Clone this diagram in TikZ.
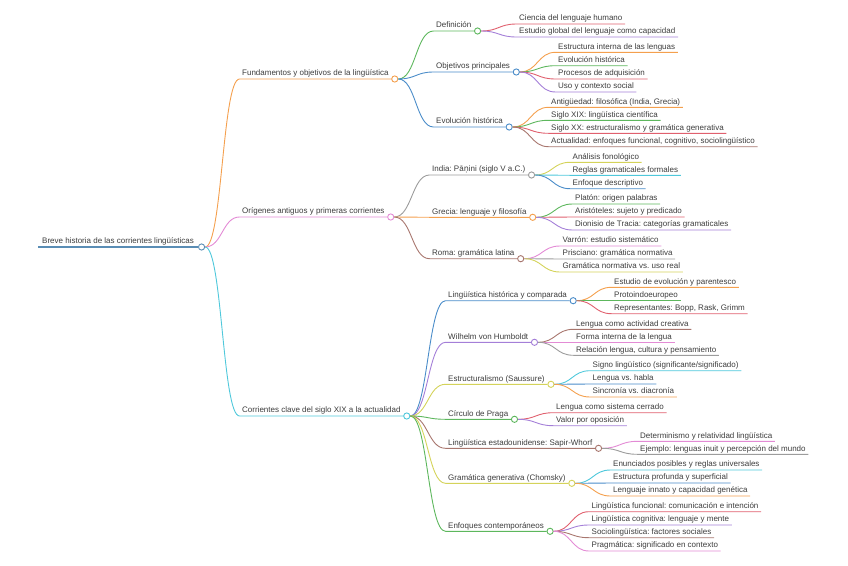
\documentclass[tikz,border=0pt]{standalone}
\usepackage{fontspec}
\setmainfont{Liberation Sans}
\newfontfamily\dejavu{DejaVu Sans}
\usepackage{tikz}
\usetikzlibrary{calc}
\frenchspacing

\definecolor{txt}{HTML}{3C3C3C}
\definecolor{cRoot}{HTML}{5A8DB5}
\definecolor{cOrange}{HTML}{F4A04E}
\definecolor{cPink}{HTML}{E38BD5}
\definecolor{cCyan}{HTML}{4FC8DB}
\definecolor{cGreen}{HTML}{5DB75D}
\definecolor{cBlue}{HTML}{4A8CC9}
\definecolor{cRed}{HTML}{E0606E}
\definecolor{cPurple}{HTML}{A47FD8}
\definecolor{cBrown}{HTML}{A8766E}
\definecolor{cGray}{HTML}{9C9C9C}
\definecolor{cOlive}{HTML}{D4D35A}

\tikzset{
  every node/.style={font=\fontsize{8}{9.5}\selectfont},
  lbl/.style={anchor=south west,inner xsep=2.5pt,inner ysep=1.4pt,text height=6.3pt,text depth=1.7pt,text=txt},
  dot/.style={circle,draw=#1,fill=white,line width=0.9pt,minimum size=6.2pt,inner sep=0pt,anchor=west},
  br/.style={draw=#1,line width=0.9pt},
  branch/.style={to path={let \p1=(\tikztostart),\p2=(\tikztotarget) in
    .. controls (0.5*\x1+0.5*\x2,\y1) and (0.5*\x1+0.5*\x2,\y2) .. (\tikztotarget)}}
}

\begin{document}
\begin{tikzpicture}[x=1pt,y=-1pt]
\useasboundingbox (0,0) rectangle (848,565);

% root
\node[lbl,inner xsep=4pt] (root) at (38,247) {Breve historia de las corrientes lingüísticas};
\node[dot=cRoot] (root-o) at (root.south east) {};
\draw[cRoot,line width=2.2pt] (root.south west) -- (root-o.west);

% main branches
\node[lbl] (fund) at (239.5,79) {Fundamentos y objetivos de la lingüística};
\node[dot=cOrange] (fund-o) at (fund.south east) {};
\draw[br=cOrange] (root-o.east) to[branch] (fund.south west) -- (fund-o.west);
\node[lbl] (orig) at (239.5,217) {Orígenes antiguos y primeras corrientes};
\node[dot=cPink] (orig-o) at (orig.south east) {};
\draw[br=cPink] (root-o.east) to[branch] (orig.south west) -- (orig-o.west);
\node[lbl] (corr) at (239.5,416) {Corrientes clave del siglo XIX a la actualidad};
\node[dot=cCyan] (corr-o) at (corr.south east) {};
\draw[br=cCyan] (root-o.east) to[branch] (corr.south west) -- (corr-o.west);

% Fundamentos
\node[lbl] (defi) at (433.5,31) {Definición};
\node[dot=cGreen] (defi-o) at (defi.south east) {};
\draw[br=cGreen] (fund-o.east) to[branch] (defi.south west) -- (defi-o.west);
\node[lbl] (obje) at (433.5,72) {Objetivos principales};
\node[dot=cBlue] (obje-o) at (obje.south east) {};
\draw[br=cBlue] (fund-o.east) to[branch] (obje.south west) -- (obje-o.west);
\node[lbl] (evol) at (433.5,127) {Evolución histórica};
\node[dot=cBlue] (evol-o) at (evol.south east) {};
\draw[br=cBlue] (fund-o.east) to[branch] (evol.south west) -- (evol-o.west);

\node[lbl] (defi1) at (516.5,24) {Ciencia del lenguaje humano};
\draw[br=cRed] (defi-o.east) to[branch] (defi1.south west) -- (defi1.south east);
\node[lbl] (defi2) at (516.5,37) {Estudio global del lenguaje como capacidad};
\draw[br=cPurple] (defi-o.east) to[branch] (defi2.south west) -- (defi2.south east);

\node[lbl] (obje1) at (555.5,52.3) {Estructura interna de las lenguas};
\draw[br=cOrange] (obje-o.east) to[branch] (obje1.south west) -- (obje1.south east);
\node[lbl] (obje2) at (555.5,65.7) {Evolución histórica};
\draw[br=cGreen] (obje-o.east) to[branch] (obje2.south west) -- (obje2.south east);
\node[lbl] (obje3) at (555.5,79) {Procesos de adquisición};
\draw[br=cRed] (obje-o.east) to[branch] (obje3.south west) -- (obje3.south east);
\node[lbl] (obje4) at (555.5,92) {Uso y contexto social};
\draw[br=cPurple] (obje-o.east) to[branch] (obje4.south west) -- (obje4.south east);

\node[lbl] (evol1) at (548.5,107.3) {Antigüedad: filosófica (India, Grecia)};
\draw[br=cOrange] (evol-o.east) to[branch] (evol1.south west) -- (evol1.south east);
\node[lbl] (evol2) at (548.5,120.3) {Siglo XIX: lingüística científica};
\draw[br=cGreen] (evol-o.east) to[branch] (evol2.south west) -- (evol2.south east);
\node[lbl] (evol3) at (548.5,133.3) {Siglo XX: estructuralismo y gramática generativa};
\draw[br=cRed] (evol-o.east) to[branch] (evol3.south west) -- (evol3.south east);
\node[lbl] (evol4) at (548.5,146.7) {Actualidad: enfoques funcional, cognitivo, sociolingüístico};
\draw[br=cBrown] (evol-o.east) to[branch] (evol4.south west) -- (evol4.south east);

% Origenes
\node[lbl] (indi) at (429.5,175) {India: Pā{\dejavu ṇ}ini (siglo V a.C.)};
\node[dot=cGray] (indi-o) at (indi.south east) {};
\draw[br=cGray] (orig-o.east) to[branch] (indi.south west) -- (indi-o.west);
\node[lbl] (grec) at (429.5,217.3) {Grecia: lenguaje y filosofía};
\node[dot=cOrange] (grec-o) at (grec.south east) {};
\draw[br=cOrange] (orig-o.east) to[branch] (grec.south west) -- (grec-o.west);
\node[lbl] (roma) at (429.5,258.7) {Roma: gramática latina};
\node[dot=cBrown] (roma-o) at (roma.south east) {};
\draw[br=cBrown] (orig-o.east) to[branch] (roma.south west) -- (roma-o.west);

\node[lbl] (indi1) at (570,162.3) {Análisis fonológico};
\draw[br=cOlive] (indi-o.east) to[branch] (indi1.south west) -- (indi1.south east);
\node[lbl] (indi2) at (570,175.3) {Reglas gramaticales formales};
\draw[br=cCyan] (indi-o.east) to[branch] (indi2.south west) -- (indi2.south east);
\node[lbl] (indi3) at (570,188.7) {Enfoque descriptivo};
\draw[br=cBlue] (indi-o.east) to[branch] (indi3.south west) -- (indi3.south east);

\node[lbl] (grec1) at (572.5,204) {Platón: origen palabras};
\draw[br=cGreen] (grec-o.east) to[branch] (grec1.south west) -- (grec1.south east);
\node[lbl] (grec2) at (572.5,217) {Aristóteles: sujeto y predicado};
\draw[br=cRed] (grec-o.east) to[branch] (grec2.south west) -- (grec2.south east);
\node[lbl] (grec3) at (572.5,230) {Dionisio de Tracia: categorías gramaticales};
\draw[br=cPurple] (grec-o.east) to[branch] (grec3.south west) -- (grec3.south east);

\node[lbl] (roma1) at (560,246) {Varrón: estudio sistemático};
\draw[br=cPink] (roma-o.east) to[branch] (roma1.south west) -- (roma1.south east);
\node[lbl] (roma2) at (560,259) {Prisciano: gramática normativa};
\draw[br=cGray] (roma-o.east) to[branch] (roma2.south west) -- (roma2.south east);
\node[lbl] (roma3) at (560,272) {Gramática normativa vs. uso real};
\draw[br=cOlive] (roma-o.east) to[branch] (roma3.south west) -- (roma3.south east);

% Corrientes
\node[lbl] (hist) at (445.5,300.7) {Lingüística histórica y comparada};
\node[dot=cBlue] (hist-o) at (hist.south east) {};
\draw[br=cBlue] (corr-o.east) to[branch] (hist.south west) -- (hist-o.west);
\node[lbl] (humb) at (445.5,342.3) {Wilhelm von Humboldt};
\node[dot=cPurple] (humb-o) at (humb.south east) {};
\draw[br=cPurple] (corr-o.east) to[branch] (humb.south west) -- (humb-o.west);
\node[lbl] (estr) at (445.5,384.3) {Estructuralismo (Saussure)};
\node[dot=cOlive] (estr-o) at (estr.south east) {};
\draw[br=cOlive] (corr-o.east) to[branch] (estr.south west) -- (estr-o.west);
\node[lbl] (prag) at (445.5,419.3) {Círculo de Praga};
\node[dot=cGreen] (prag-o) at (prag.south east) {};
\draw[br=cGreen] (corr-o.east) to[branch] (prag.south west) -- (prag-o.west);
\node[lbl] (sapi) at (445.5,448.3) {Lingüística estadounidense: Sapir-Whorf};
\node[dot=cBrown] (sapi-o) at (sapi.south east) {};
\draw[br=cBrown] (corr-o.east) to[branch] (sapi.south west) -- (sapi-o.west);
\node[lbl] (chom) at (445.5,483.3) {Gramática generativa (Chomsky)};
\node[dot=cOlive] (chom-o) at (chom.south east) {};
\draw[br=cOlive] (corr-o.east) to[branch] (chom.south west) -- (chom-o.west);
\node[lbl] (enfo) at (445.5,531.3) {Enfoques contemporáneos};
\node[dot=cGreen] (enfo-o) at (enfo.south east) {};
\draw[br=cGreen] (corr-o.east) to[branch] (enfo.south west) -- (enfo-o.west);

\node[lbl] (hist1) at (611.5,287.3) {Estudio de evolución y parentesco};
\draw[br=cOrange] (hist-o.east) to[branch] (hist1.south west) -- (hist1.south east);
\node[lbl] (hist2) at (611.5,300.7) {Protoindoeuropeo};
\draw[br=cGreen] (hist-o.east) to[branch] (hist2.south west) -- (hist2.south east);
\node[lbl] (hist3) at (611.5,313.7) {Representantes: Bopp, Rask, Grimm};
\draw[br=cRed] (hist-o.east) to[branch] (hist3.south west) -- (hist3.south east);

\node[lbl] (humb1) at (573.5,329.3) {Lengua como actividad creativa};
\draw[br=cBrown] (humb-o.east) to[branch] (humb1.south west) -- (humb1.south east);
\node[lbl] (humb2) at (573.5,342.3) {Forma interna de la lengua};
\draw[br=cPink] (humb-o.east) to[branch] (humb2.south west) -- (humb2.south east);
\node[lbl] (humb3) at (573.5,355.3) {Relación lengua, cultura y pensamiento};
\draw[br=cGray] (humb-o.east) to[branch] (humb3.south west) -- (humb3.south east);

\node[lbl] (estr1) at (590,370.7) {Signo lingüístico (significante/significado)};
\draw[br=cCyan] (estr-o.east) to[branch] (estr1.south west) -- (estr1.south east);
\node[lbl] (estr2) at (590,384) {Lengua vs. habla};
\draw[br=cBlue] (estr-o.east) to[branch] (estr2.south west) -- (estr2.south east);
\node[lbl] (estr3) at (590,397) {Sincronía vs. diacronía};
\draw[br=cOrange] (estr-o.east) to[branch] (estr3.south west) -- (estr3.south east);

\node[lbl] (prag1) at (553.5,412.7) {Lengua como sistema cerrado};
\draw[br=cRed] (prag-o.east) to[branch] (prag1.south west) -- (prag1.south east);
\node[lbl] (prag2) at (553.5,425.7) {Valor por oposición};
\draw[br=cPurple] (prag-o.east) to[branch] (prag2.south west) -- (prag2.south east);

\node[lbl] (sapi1) at (637.5,441.3) {Determinismo y relatividad lingüística};
\draw[br=cPink] (sapi-o.east) to[branch] (sapi1.south west) -- (sapi1.south east);
\node[lbl] (sapi2) at (637.5,454.3) {Ejemplo: lenguas inuit y percepción del mundo};
\draw[br=cGray] (sapi-o.east) to[branch] (sapi2.south west) -- (sapi2.south east);

\node[lbl] (chom1) at (610.5,470) {Enunciados posibles y reglas universales};
\draw[br=cCyan] (chom-o.east) to[branch] (chom1.south west) -- (chom1.south east);
\node[lbl] (chom2) at (610.5,483) {Estructura profunda y superficial};
\draw[br=cBlue] (chom-o.east) to[branch] (chom2.south west) -- (chom2.south east);
\node[lbl] (chom3) at (610.5,496) {Lenguaje innato y capacidad genética};
\draw[br=cOrange] (chom-o.east) to[branch] (chom3.south west) -- (chom3.south east);

\node[lbl] (enfo1) at (589,511.7) {Lingüística funcional: comunicación e intención};
\draw[br=cRed] (enfo-o.east) to[branch] (enfo1.south west) -- (enfo1.south east);
\node[lbl] (enfo2) at (589,525) {Lingüística cognitiva: lenguaje y mente};
\draw[br=cPurple] (enfo-o.east) to[branch] (enfo2.south west) -- (enfo2.south east);
\node[lbl] (enfo3) at (589,537.7) {Sociolingüística: factores sociales};
\draw[br=cBrown] (enfo-o.east) to[branch] (enfo3.south west) -- (enfo3.south east);
\node[lbl] (enfo4) at (589,551) {Pragmática: significado en contexto};
\draw[br=cPink] (enfo-o.east) to[branch] (enfo4.south west) -- (enfo4.south east);
\end{tikzpicture}
\end{document}
